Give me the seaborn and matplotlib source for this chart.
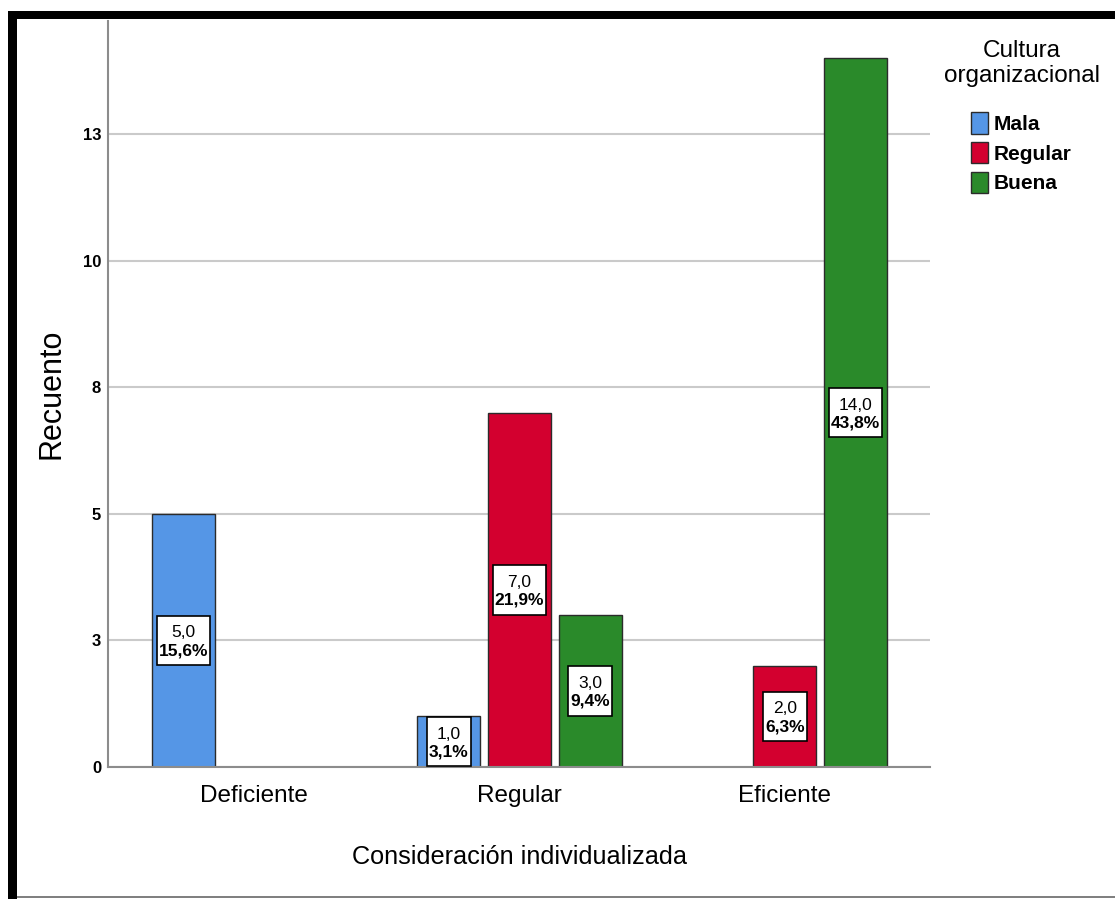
import matplotlib
matplotlib.use("Agg")
import matplotlib.pyplot as plt
from matplotlib.patches import Rectangle
from matplotlib.offsetbox import TextArea, VPacker, AnnotationBbox, DrawingArea
from matplotlib import font_manager
import seaborn as sns
import pandas as pd

# ---------------- data ----------------
categories = ["Deficiente", "Regular", "Eficiente"]
groups = ["Mala", "Regular", "Buena"]
bar_category = ["Deficiente", "Regular", "Regular", "Regular", "Eficiente", "Eficiente"]
bar_group = ["Mala", "Mala", "Regular", "Buena", "Regular", "Buena"]
bar_count = [5, 1, 7, 3, 2, 14]
bar_pct = [15.6, 3.1, 21.9, 9.4, 6.3, 43.8]
ytick_values = [0, 2.5, 5, 7.5, 10, 12.5]
ytick_labels = ["0", "3", "5", "8", "10", "13"]
colors = ["#5596e6", "#d3002f", "#2a8a2a"]

x_title = "Consideración individualizada"
y_title = "Recuento"
legend_title = "Cultura\norganizacional"

# ---------------- style / fonts ----------------
sns.set_style("white")
available = {f.name for f in font_manager.fontManager.ttflist}
NARROW = "Liberation Sans Narrow" if "Liberation Sans Narrow" in available else "Liberation Sans"
REG = "Liberation Sans"
plt.rcParams["font.family"] = [REG, "DejaVu Sans"]
for k in ["text.color", "axes.labelcolor", "xtick.color", "ytick.color"]:
    plt.rcParams[k] = "black"

df = pd.DataFrame({"cat": bar_category, "grp": bar_group, "n": bar_count, "pct": bar_pct})

W, H = 1115, 899
fig = plt.figure(figsize=(W / 100, H / 100), dpi=100)
ax = fig.add_axes([108 / W, 1 - 767 / H, (930 - 108) / W, (767 - 21) / H])

sns.barplot(data=df, x="cat", y="n", hue="grp", order=categories, hue_order=groups,
            palette=colors, width=0.8, gap=0.11, saturation=1, errorbar=None,
            edgecolor="#2b2b2b", linewidth=1.0, ax=ax)

ax.set_xlim(-0.551, 2.547)
ax.set_ylim(0, 14.74)
ax.set_yticks(ytick_values)
ax.set_yticklabels(ytick_labels, fontsize=12, fontweight="bold", family=[NARROW], color="black")
ax.tick_params(axis="y", length=0, pad=5, colors="black")
ax.tick_params(axis="x", length=0, pad=13, labelsize=17.5, colors="black")
for t in ax.get_xticklabels():
    t.set_family([REG])

ax.yaxis.grid(True, color="#cacaca", linewidth=1.5)
ax.xaxis.grid(False)
ax.set_axisbelow(True)
for s in ["top", "right"]:
    ax.spines[s].set_visible(False)
for s in ["left", "bottom"]:
    ax.spines[s].set_color("#8c8c8c")
    ax.spines[s].set_linewidth(1.5)

ax.set_xlabel(x_title, fontsize=18.2, labelpad=27, family=[REG], color="black")
ax.set_ylabel(y_title, fontsize=22, family=[REG], color="black")
ax.yaxis.set_label_coords(-0.051, 0.5)

# ---------------- value boxes ----------------
bars = [p for p in ax.patches if p.get_height() > 0]
for c, g, n, pct in zip(bar_category, bar_group, bar_count, bar_pct):
    ci = categories.index(c)
    cand = [p for p in bars if abs(p.get_height() - n) < 1e-9
            and abs(p.get_x() + p.get_width() / 2 - ci) < 0.5]
    p = cand[0]
    xc = p.get_x() + p.get_width() / 2
    t1 = TextArea(f"{n:.1f}".replace(".", ","),
                  textprops=dict(fontsize=12.5, family=[NARROW], color="black"))
    t2 = TextArea(f"{pct:.1f}%".replace(".", ","),
                  textprops=dict(fontsize=12.5, family=[NARROW], fontweight="bold", color="black"))
    pack = VPacker(children=[DrawingArea(0, 3.5), t1, t2, DrawingArea(0, 1.5)],
                   align="center", pad=1.5, sep=2)
    ab = AnnotationBbox(pack, (xc, n / 2), xycoords="data", frameon=True, pad=0,
                        bboxprops=dict(facecolor="white", edgecolor="black", linewidth=1.2))
    ax.add_artist(ab)

# ---------------- legend ----------------
handles, labels = ax.get_legend_handles_labels()
if ax.get_legend() is not None:
    ax.get_legend().remove()
for h in handles:
    h.set_edgecolor("#2b2b2b")
    h.set_linewidth(1.0)
leg = ax.legend(handles, labels, loc="upper center",
                bbox_to_anchor=(1021 / W, 1 - 102 / H), bbox_transform=fig.transFigure,
                frameon=False, borderpad=0,
                prop=dict(family=[NARROW], weight="bold", size=15),
                handlelength=0.82, handleheight=1.2, handletextpad=0.29,
                labelspacing=0.38)
fig.text(1022 / W, 1 - 40 / H, legend_title, ha="center", va="top",
         multialignment="center", fontsize=17.5, family=[REG], color="black",
         linespacing=1.2)

# ---------------- frame ----------------
fig.add_artist(Rectangle((8 / W, 0), 9 / W, 1 - 11 / H, transform=fig.transFigure,
                         facecolor="black", edgecolor="none"))
fig.add_artist(Rectangle((8 / W, 1 - 19 / H), 1 - 8 / W, 8 / H, transform=fig.transFigure,
                         facecolor="black", edgecolor="none"))
fig.add_artist(Rectangle((17 / W, 1 - 898 / H), 1 - 17 / W, 2 / H, transform=fig.transFigure,
                         facecolor="#808080", edgecolor="none"))

fig.savefig("out.png", dpi=100, facecolor="white")
